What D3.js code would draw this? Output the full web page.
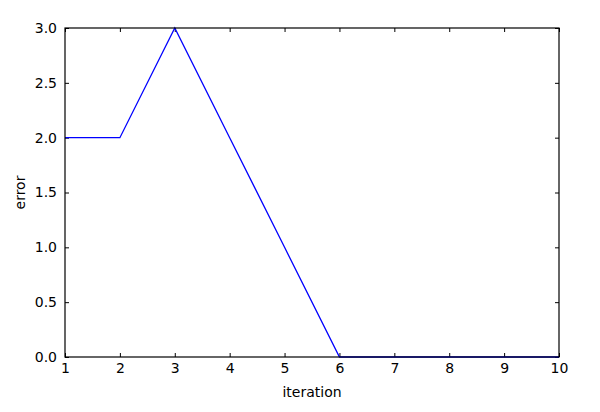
<!DOCTYPE html>
<html>
<head>
<meta charset="utf-8">
<script src="https://cdn.jsdelivr.net/npm/d3@7"></script>
<style>
  body { margin: 0; background: #fff; }
  text { font-family: 'DejaVu Sans', sans-serif; font-size: 14px; fill: #000; }
</style>
</head>
<body>
<div id="graf"></div>
<script>
// datos
iteraciones = [1, 2, 3, 4, 5, 6, 7, 8, 9, 10]
errores = [2, 2, 3, 2, 1, 0, 0, 0, 0, 0]
ticksX = [1, 2, 3, 4, 5, 6, 7, 8, 9, 10]
ticksY = [0, 0.5, 1, 1.5, 2, 2.5, 3]

ancho_total = 600
alto_total = 412
margins = { top: 28, left: 65, right: 41, bottom: 55 }
ancho = ancho_total - margins.left - margins.right
alto = alto_total - margins.top - margins.bottom

svg = d3.select('#graf').append('svg')
        .attr('width', ancho_total)
        .attr('height', alto_total)

g = svg.append('g')
       .attr('transform', `translate(${margins.left}, ${margins.top})`)

x = d3.scaleLinear().domain([1, 10]).range([0, ancho])
y = d3.scaleLinear().domain([0, 3]).range([alto, 0])

// ejes con ticks hacia adentro
xAxis = g.append('g').attr('transform', `translate(0, ${alto})`)
         .call(d3.axisBottom(x).tickValues(ticksX).tickSize(-4).tickPadding(6).tickFormat(d3.format('d')))
yAxis = g.append('g')
         .call(d3.axisLeft(y).tickValues(ticksY).tickSize(-4).tickPadding(8).tickFormat(d3.format('.1f')))
xTop = g.append('g')
        .call(d3.axisTop(x).tickValues(ticksX).tickSize(-4).tickFormat(''))
yRight = g.append('g').attr('transform', `translate(${ancho}, 0)`)
        .call(d3.axisRight(y).tickValues(ticksY).tickSize(-4).tickFormat(''))

g.selectAll('.domain').remove()
g.selectAll('.tick line').attr('stroke', '#000').attr('stroke-width', 1)
g.selectAll('.tick text').style('font-size', '14px').attr('font-family', null)

// línea
linea = d3.line().x((d, i) => x(iteraciones[i])).y(d => y(d))
g.append('path')
 .datum(errores)
 .attr('d', linea)
 .attr('fill', 'none')
 .attr('stroke', '#0000ff')
 .attr('stroke-width', 1.3)

// marco
g.append('rect')
 .attr('width', ancho).attr('height', alto)
 .attr('fill', 'none').attr('stroke', '#000').attr('stroke-width', 1.2)

// etiquetas
g.append('text')
 .attr('x', ancho / 2).attr('y', alto + 40)
 .attr('text-anchor', 'middle')
 .text('iteration')
g.append('text')
 .attr('transform', `translate(${-40}, ${alto / 2}) rotate(-90)`)
 .attr('text-anchor', 'middle')
 .text('error')
</script>
</body>
</html>
